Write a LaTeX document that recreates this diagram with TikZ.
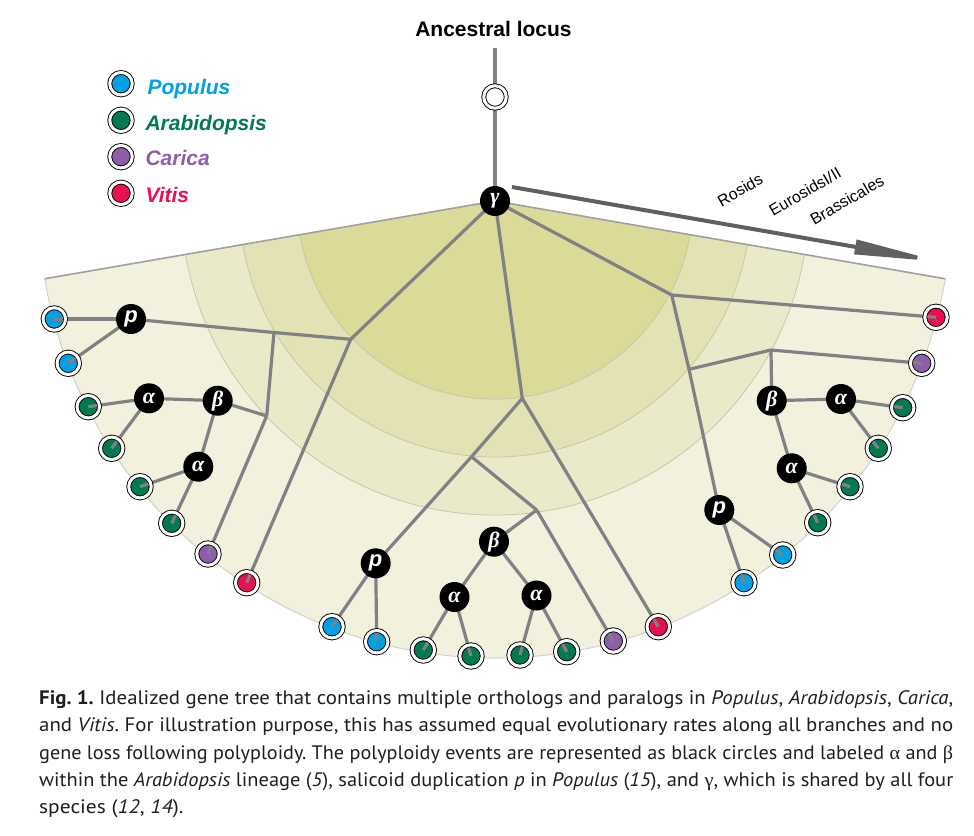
\documentclass[tikz,border=0pt]{standalone}
\usepackage{fontspec}
\usepackage{graphicx}
\setmainfont{Liberation Sans}
\newfontfamily\capfont{PT Sans}
\newfontfamily\greekfont{Liberation Serif}
\newfontfamily\evserif{Liberation Serif}
\usetikzlibrary{calc,arrows.meta}
\pgfdeclarelayer{fan}
\pgfdeclarelayer{bg}
\pgfsetlayers{fan,bg,main}

\definecolor{popc}{RGB}{0,160,226}
\definecolor{arac}{RGB}{0,122,78}
\definecolor{carc}{RGB}{142,94,168}
\definecolor{vitc}{RGB}{232,16,80}
\definecolor{brc}{RGB}{128,128,133}
\definecolor{ringA}{RGB}{220,218,152}
\definecolor{ringB}{RGB}{227,226,180}
\definecolor{ringC}{RGB}{234,234,202}
\definecolor{ringD}{RGB}{241,241,221}
\definecolor{ringline}{RGB}{198,198,172}
\definecolor{edgec}{RGB}{160,160,160}
\definecolor{arrc}{RGB}{96,96,98}
\definecolor{capc}{RGB}{30,30,30}

\newcommand{\capline}[1]{\resizebox{914pt}{\height}{#1}}

\tikzset{
  branch/.style={draw=brc, line width=3.2pt, line join=round},
  leaf/.style={circle, fill=#1, draw=black, line width=0.9pt, double=white,
    double distance=3pt, minimum size=22.5pt, inner sep=0pt},
  ev/.style={circle, fill=black, minimum size=30pt, inner sep=0pt, text=white},
  gk/.style={ev, font=\evserif\bfseries\itshape\fontsize{22}{22}\selectfont},
  pk/.style={ev, font=\bfseries\itshape\fontsize{22}{22}\selectfont},
  legtext/.style={anchor=base west, font=\bfseries\itshape\fontsize{21}{21}\selectfont},
  cladetext/.style={rotate=30, inner sep=0pt, font=\fontsize{16}{16}\selectfont},
  captext/.style={anchor=base west, inner sep=0pt, text=capc, font=\capfont\fontsize{19.5}{19.5}\selectfont\frenchspacing},
}

\begin{document}
\begin{tikzpicture}[x=1pt, y=-1pt]
\useasboundingbox (0,0) rectangle (974,835);

% ---------- nodes ----------
\node[gk] (G) at (495,201) {γ};
\coordinate (top) at (495,48);
\node[leaf=white] (anc) at (495,97) {};
\node[font=\bfseries\fontsize{21}{21}\selectfont, anchor=base] (anct) at (493.5,36) {Ancestral locus};

% left clade
\coordinate (JA) at (350.7,339.3);
\coordinate (JB) at (274,332.5);
\coordinate (JC) at (266.7,416);
\node[pk] (pL) at (131,319) {p};
\node[gk] (bL) at (217.7,400.7) {β};
\node[gk] (a1) at (149,398.3) {α};
\node[gk] (a2) at (198.3,466.7) {α};
\node[leaf=popc] (P1) at (54.3,319) {};
\node[leaf=popc] (P2) at (68.3,363.3) {};
\node[leaf=arac] (A1) at (88.3,406.7) {};
\node[leaf=arac] (A2) at (111.7,448.3) {};
\node[leaf=arac] (A3) at (140,486.7) {};
\node[leaf=arac] (A4) at (171.7,523.3) {};
\node[leaf=carc] (C1) at (208,554) {};
\node[leaf=vitc] (V1) at (246.7,582.7) {};

% middle clade
\coordinate (JM) at (522.3,398.3);
\coordinate (JP) at (471.5,456.7);
\coordinate (JQ) at (536.7,510);
\node[pk] (pM) at (375.7,563.3) {p};
\node[gk] (bM) at (494,541.7) {β};
\node[gk] (a3) at (454.5,597) {α};
\node[gk] (a4) at (536.5,595.5) {α};
\node[leaf=popc] (M1) at (332,626.7) {};
\node[leaf=popc] (M2) at (376.7,641.7) {};
\node[leaf=arac] (M3) at (423.3,650) {};
\node[leaf=arac] (M4) at (471,656) {};
\node[leaf=arac] (M5) at (520,655) {};
\node[leaf=arac] (M6) at (566.7,651.7) {};
\node[leaf=carc] (C2) at (613.3,641) {};
\node[leaf=vitc] (V2) at (658.3,626.7) {};

% right clade
\coordinate (JR) at (671.7,295);
\coordinate (JU) at (689,369.3);
\coordinate (JT) at (771,350);
\node[pk] (pR) at (719.3,510) {p};
\node[gk] (bR) at (771.7,400.7) {β};
\node[gk] (a5) at (841,399) {α};
\node[gk] (a6) at (791.7,468.3) {α};
\node[leaf=vitc] (V3) at (936,317.3) {};
\node[leaf=carc] (C3) at (921.7,363.3) {};
\node[leaf=arac] (R3) at (902.7,407.7) {};
\node[leaf=arac] (R4) at (878.3,448.3) {};
\node[leaf=arac] (R5) at (850,486.7) {};
\node[leaf=arac] (R6) at (817.7,522.7) {};
\node[leaf=popc] (R1) at (782.7,555) {};
\node[leaf=popc] (R2) at (744,582.7) {};

% ---------- fan background ----------
\begin{pgfonlayer}{fan}
  \foreach \r/\c in {457/ringD,314/ringC,256/ringB,198/ringA}{
    \fill[\c] (G.center) -- ++(189.8:\r pt) arc[start angle=189.8, end angle=350.2, radius=\r pt] -- cycle;
  }
  \foreach \r in {314,256,198}{
    \draw[ringline, line width=0.8pt] (G.center) ++(189.8:\r pt) arc[start angle=189.8, end angle=350.2, radius=\r pt];
  }
  \draw[black!18, line width=1pt] (G.center) ++(189.8:457pt) arc[start angle=189.8, end angle=350.2, radius=457pt];
  \draw[edgec, line width=1.6pt] ($(G.center)+(189.8:457pt)$) -- (G.center) -- ($(G.center)+(350.2:457pt)$);
\end{pgfonlayer}

% ---------- branches ----------
\begin{pgfonlayer}{bg}
  \draw[branch] (top) -- (G.center);
  \foreach \a/\b in {G/JA,G/JM,G/JR,
      JA/JB,JA/V1,JB/pL,JB/JC,pL/P1,pL/P2,JC/bL,JC/C1,bL/a1,bL/a2,
      a1/A1,a1/A2,a2/A3,a2/A4,
      JM/JP,JM/V2,JP/pM,JP/JQ,pM/M1,pM/M2,JQ/bM,JQ/C2,bM/a3,bM/a4,
      a3/M3,a3/M4,a4/M5,a4/M6,
      JR/V3,JR/JU,JU/pR,JU/JT,pR/R1,pR/R2,JT/C3,JT/bR,bR/a5,bR/a6,
      a5/R3,a5/R4,a6/R5,a6/R6}{
    \draw[branch] (\a.center) -- (\b.center);
  }
\end{pgfonlayer}

% stubs inside leaves
\foreach \l/\p in {P1/pL,P2/pL,A1/a1,A2/a1,A3/a2,A4/a2,C1/JC,V1/JA,
    M1/pM,M2/pM,M3/a3,M4/a3,M5/a4,M6/a4,C2/JQ,V2/JM,
    V3/JR,C3/JT,R3/a5,R4/a5,R5/a6,R6/a6,R1/pR,R2/pR}{
  \draw[draw=brc, line width=3.2pt] (\l.center) -- ($(\l.center)!8.6pt!(\p.center)$);
}

% ---------- arrow and clade labels ----------
\coordinate (arS) at (512,187);
\coordinate (arE) at (942,262);
\draw[arrc, line width=4pt, -{Triangle[length=88pt, width=14pt]}] (arS) -- (arE);
\node[cladetext] (ros) at (740,190) {Rosids};
\node[cladetext] (eur) at (805,191.5) {EurosidsI/II};
\node[cladetext] (bra) at (847,200) {Brassicales};

% ---------- legend ----------
\node[leaf=popc] (l1) at (121,83.7) {};
\node[leaf=arac] (l2) at (121,120.3) {};
\node[leaf=carc] (l3) at (121,156.7) {};
\node[leaf=vitc] (l4) at (121,193.3) {};
\node[legtext, text=popc] (t1) at (144,94.3) {Populus};
\node[legtext, text=arac] (t2) at (142,130) {Arabidopsis};
\node[legtext, text=carc] (t3) at (142,165.7) {Carica};
\node[legtext, text=vitc] (t4) at (142,202) {Vitis};

% ---------- caption ----------
\node[captext] (cap1) at (39,704.3) {\capline{\textbf{Fig. 1.} Idealized gene tree that contains multiple orthologs and paralogs in \textit{Populus}, \textit{Arabidopsis}, \textit{Carica},}};
\node[captext] (cap2) at (39,731.7) {\capline{and \textit{Vitis}. For illustration purpose, this has assumed equal evolutionary rates along all branches and no}};
\node[captext] (cap3) at (39,759) {\capline{gene loss following polyploidy. The polyploidy events are represented as black circles and labeled {\greekfont α} and {\greekfont β}}};
\node[captext] (cap4) at (39,786.5) {\capline{within the \textit{Arabidopsis} lineage (\textit{5}), salicoid duplication \textit{p} in \textit{Populus} (\textit{15}), and {\greekfont γ}, which is shared by all four}};
\node[captext] (cap5) at (39,813.5) {\scalebox{1.1}[1]{species (\textit{12}, \textit{14}).}};
\end{tikzpicture}
\end{document}
